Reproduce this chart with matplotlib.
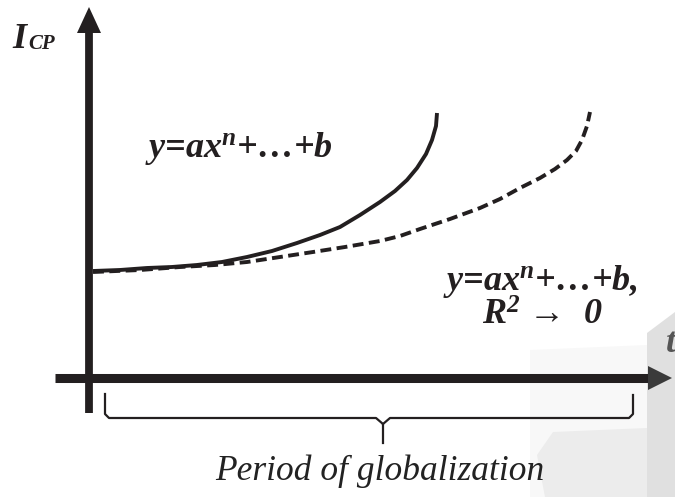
import matplotlib
matplotlib.use('Agg')
import matplotlib.pyplot as plt
from matplotlib.patches import Polygon

plt.rcParams['mathtext.fontset'] = 'custom'
plt.rcParams['mathtext.it'] = 'Liberation Serif:style=italic:weight=bold'
plt.rcParams['mathtext.rm'] = 'Liberation Serif:style=italic:weight=bold'
plt.rcParams['mathtext.bf'] = 'Liberation Serif:style=italic:weight=bold'

# curves, in pixel coordinates (y grows downward)
solid_x = [93, 120, 147, 172, 197, 222, 247, 272, 297, 320, 340, 360, 380, 395,
           407, 417, 426, 432, 436, 437]
solid_y = [271, 270, 268, 267, 265, 262, 257, 251, 243, 235, 227, 215, 202, 191,
           180, 168, 154, 140, 126, 113]
dashed_x = [93, 140, 180, 215, 247, 280, 313, 345, 380, 400, 420, 450, 480, 500,
            520, 540, 555, 567, 576, 582, 587, 590]
dashed_y = [272, 270, 267, 265, 262, 257, 252, 247, 241, 236, 229, 219, 208, 199,
            188, 178, 169, 160, 151, 140, 126, 112]

y_label = 'I'
y_label_sub = 'CP'
x_label = 't'
formula = 'y=ax$^n$+…+b'
formula_fit = 'y=ax$^n$+…+b,'
fit_note = 'R$^2$ →  0'
period = 'Period of globalization'

ink = '#231f20'
serif = ['Liberation Serif', 'DejaVu Serif']

fig = plt.figure(figsize=(6.75, 4.97), dpi=100)
ax = fig.add_axes([0, 0, 1, 1])
ax.set_xlim(0, 675)
ax.set_ylim(497, 0)
ax.axis('off')

# faint watermark in the lower right
ax.add_patch(Polygon([(530, 350), (647, 345), (647, 497), (530, 497)],
                     closed=True, fc='#f8f8f8', ec='none', zorder=0))
ax.add_patch(Polygon([(537, 455), (553, 432), (647, 428), (647, 497), (545, 497)],
                     closed=True, fc='#ececec', ec='none', zorder=0))
ax.add_patch(Polygon([(647, 333), (675, 312), (675, 497), (647, 497)],
                     closed=True, fc='#e0e0e0', ec='none', zorder=0))

# axes arrows
ax.plot([89, 89], [413, 30], color=ink, lw=5.6, solid_capstyle='butt', zorder=3)
ax.add_patch(Polygon([(89, 7), (77, 33), (101, 33)], closed=True, fc=ink, ec='none', zorder=3))
ax.plot([55, 650], [378, 378], color=ink, lw=6.5, solid_capstyle='butt', zorder=3)
ax.add_patch(Polygon([(672, 378), (648, 366), (648, 390)], closed=True, fc='#3a3a3a', ec='none', zorder=3))

# curves
ax.plot(solid_x, solid_y, color=ink, lw=2.8, solid_capstyle='butt', solid_joinstyle='round', zorder=2)
ax.plot(dashed_x, dashed_y, color=ink, lw=2.8, dashes=(2.8, 1.4), zorder=2)

# brace under the time axis
ax.plot([105, 105, 109, 376, 383, 383], [394, 414, 418, 418, 424, 443], color=ink, lw=1.6, zorder=2)
ax.plot([383, 390, 629, 633, 633], [424, 418, 418, 414, 395], color=ink, lw=1.6, zorder=2)

# texts
bi = dict(family=serif, weight='bold', style='italic', color=ink)
ax.text(12, 48, y_label, fontsize=26, **bi)
ax.text(28, 49, y_label_sub, fontsize=15, **bi)
ax.text(145, 157, formula, fontsize=26, **bi)
ax.text(443, 290, formula_fit, fontsize=26, **bi)
ax.text(482, 325, fit_note, fontsize=26, **bi)
ax.text(666, 352, x_label, fontsize=26, family=serif, weight='bold', style='italic', color='#555555')
ax.text(380, 480, period, fontsize=25.5, family=serif, style='italic', color='#222222', ha='center')

fig.savefig('out.png', dpi=100)
